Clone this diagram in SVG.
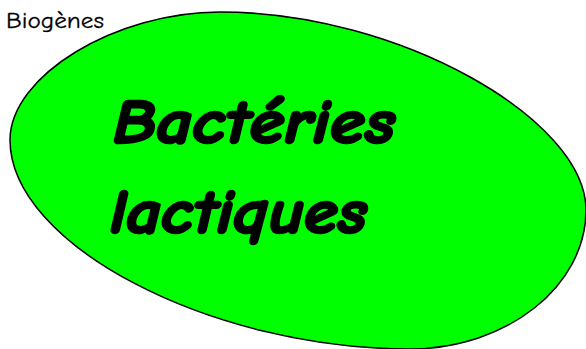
<svg xmlns="http://www.w3.org/2000/svg" width="586" height="349" viewBox="0 0 586 349">
<style>
.big{font-family:"Comic Sans MS","Comic Neue","DejaVu Sans",sans-serif;font-weight:bold;font-style:italic;font-size:62px;fill:#000;stroke:#000;stroke-width:2.6px;stroke-linejoin:round}
.small{font-family:"Comic Sans MS","Comic Neue","DejaVu Sans",sans-serif;font-size:23px;fill:#000;stroke:#000;stroke-width:0.3px}
</style>
<rect width="586" height="349" fill="#fff"/>
<g id="ellipse">
<path d="M220,12 C400,12 586,120 586,210 C586,286 507,349 410,349 C210,349 10,244.5 10,140 C10,76 115,12 220,12 Z" fill="#00ff00" stroke="#000" stroke-width="1.5"/>
<text class="big" x="113" y="143" textLength="282" lengthAdjust="spacingAndGlyphs">Bactéries</text>
<text class="big" x="110" y="233" textLength="257" lengthAdjust="spacingAndGlyphs">lactiques</text>
</g>
<g id="label">
<text class="small" x="6" y="28" textLength="98" lengthAdjust="spacingAndGlyphs">Biogènes</text>
</g>
</svg>
